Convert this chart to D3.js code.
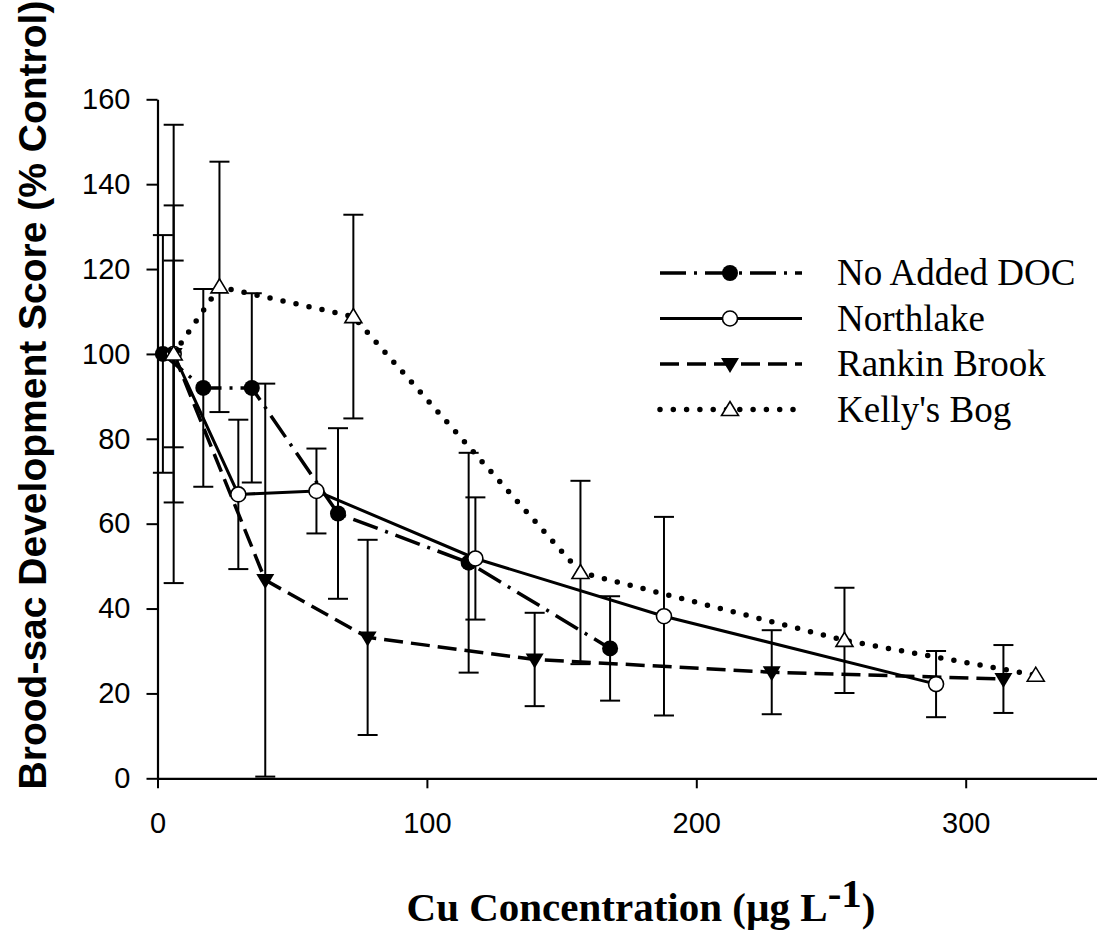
<!DOCTYPE html>
<html>
<head>
<meta charset="utf-8">
<script src="https://cdn.jsdelivr.net/npm/d3@7"></script>
<style>
  body { margin: 0; background: #fff; }
  svg { display: block; }
</style>
</head>
<body>
<script>
// chart values
var series = ["No Added DOC", "Northlake", "Rankin Brook", "Kelly's Bog"];

var noDocX = [2, 17, 35, 67, 115.5, 168];
var noDocY = [100, 92, 92, 62.4, 50.8, 30.6];
var noDocErr = [28, 23.3, 22.3, 20.1, 25.9, 12.3];

var northX = [6, 30, 59, 118, 188, 289];
var northY = [100, 66.9, 67.7, 51.8, 38.2, 22.2];
var northErr = [35, 17.6, 10, 14.4, 23.4, 7.8];

var rankinX = [6, 40, 78, 140, 228, 314];
var rankinY = [100, 46.7, 33.2, 28, 25, 23.4];
var rankinErr = [22, 46.3, 23, 11, 9.9, 8];

var kellyX = [6, 23, 72.7, 157, 255, 326];
var kellyY = [100, 115.8, 108.8, 48.5, 32.5, 24.3];
var kellyErr = [54, 29.5, 24, 21.6, 12.4, 0];

var xTicks = [0, 100, 200, 300];
var yTicks = [0, 20, 40, 60, 80, 100, 120, 140, 160];

var width = 1097;
var height = 930;

var svg = d3.select("body")
	.append("svg")
		.attr("width", width)
		.attr("height", height);

var x = d3.scaleLinear().domain([0, 350]).range([157.5, 1100.4]);
var y = d3.scaleLinear().domain([0, 160]).range([778.3, 99.3]);

function zipData(xs, ys, es) {
	return xs.map((d, i) => ({x: d, y: ys[i], e: es[i]}));
}

var styles = [
	{name: series[0], data: zipData(noDocX, noDocY, noDocErr), dash: "26,8,3,8", width: 3.5, cap: "butt", marker: "filledCircle"},
	{name: series[1], data: zipData(northX, northY, northErr), dash: null, width: 3, cap: "butt", marker: "openCircle"},
	{name: series[2], data: zipData(rankinX, rankinY, rankinErr), dash: "19,8", width: 3.5, cap: "butt", marker: "downTriangle"},
	{name: series[3], data: zipData(kellyX, kellyY, kellyErr), dash: "0,13.3", width: 5.5, cap: "round", marker: "upTriangle"}
];

// axes
var bottomAxis = d3.axisBottom(x).tickValues(xTicks).tickSize(10).tickSizeOuter(0).tickPadding(24);
var gx = svg.append("g")
	.attr("transform", "translate(0," + y(0) + ")")
	.call(bottomAxis);
gx.select(".domain").attr("stroke-width", 2.2);
gx.selectAll(".tick line").attr("stroke-width", 2);
gx.selectAll("text")
	.attr("font-family", "Liberation Sans, Arial, sans-serif")
	.attr("font-size", "29px")
	.attr("fill", "#000");

var leftAxis = d3.axisLeft(y).tickValues(yTicks).tickSize(11).tickSizeOuter(0).tickPadding(16);
var gy = svg.append("g")
	.attr("transform", "translate(" + x(0) + ",0)")
	.call(leftAxis);
gy.select(".domain").attr("stroke-width", 2.2);
gy.selectAll(".tick line").attr("stroke-width", 2);
gy.selectAll("text")
	.attr("font-family", "Liberation Sans, Arial, sans-serif")
	.attr("font-size", "29px")
	.attr("fill", "#000");

// axis titles
svg.append("text")
	.attr("transform", "translate(46," + 395 + ") rotate(-90)")
	.attr("text-anchor", "middle")
	.attr("font-family", "Liberation Sans, Arial, sans-serif")
	.attr("font-weight", "bold")
	.attr("font-size", "39px")
	.text("Brood-sac Development Score (% Control)");

var xTitle = svg.append("text")
	.attr("x", 641)
	.attr("y", 921)
	.attr("text-anchor", "middle")
	.attr("font-family", "Liberation Serif, Times New Roman, serif")
	.attr("font-weight", "bold")
	.attr("font-size", "41px");
xTitle.append("tspan").text("Cu Concentration (\u00b5g L");
xTitle.append("tspan").attr("dy", -14).text("-1");
xTitle.append("tspan").attr("dy", 14).text(")");

// lines
var line = d3.line().x(d => x(d.x)).y(d => y(d.y));
styles.forEach(s => {
	svg.append("path")
		.datum(s.data)
		.attr("d", line)
		.attr("fill", "none")
		.attr("stroke", "#000")
		.attr("stroke-width", s.width)
		.attr("stroke-linecap", s.cap)
		.attr("stroke-dasharray", s.dash);
});

// error bars
styles.forEach(s => {
	var bars = svg.append("g")
		.selectAll("g")
		.data(s.data.filter(d => d.e > 0))
		.enter().append("g")
		.attr("stroke", "#000")
		.attr("stroke-width", 2);
	bars.append("line")
		.attr("x1", d => x(d.x)).attr("x2", d => x(d.x))
		.attr("y1", d => y(d.y + d.e)).attr("y2", d => y(d.y - d.e));
	bars.append("line")
		.attr("x1", d => x(d.x) - 10).attr("x2", d => x(d.x) + 10)
		.attr("y1", d => y(d.y + d.e)).attr("y2", d => y(d.y + d.e));
	bars.append("line")
		.attr("x1", d => x(d.x) - 10).attr("x2", d => x(d.x) + 10)
		.attr("y1", d => y(d.y - d.e)).attr("y2", d => y(d.y - d.e));
});

function drawMarker(g, type, cx, cy) {
	if (type === "filledCircle") {
		g.append("circle").attr("cx", cx).attr("cy", cy).attr("r", 8).attr("fill", "#000");
	} else if (type === "openCircle") {
		g.append("circle").attr("cx", cx).attr("cy", cy).attr("r", 7.5)
			.attr("fill", "#fff").attr("stroke", "#000").attr("stroke-width", 1.6);
	} else if (type === "downTriangle") {
		g.append("path")
			.attr("d", "M" + (cx - 9) + "," + (cy - 6) + "L" + (cx + 9) + "," + (cy - 6) + "L" + cx + "," + (cy + 9) + "Z")
			.attr("fill", "#000");
	} else {
		g.append("path")
			.attr("d", "M" + (cx - 8.5) + "," + (cy + 6) + "L" + (cx + 8.5) + "," + (cy + 6) + "L" + cx + "," + (cy - 8) + "Z")
			.attr("fill", "#fff").attr("stroke", "#000").attr("stroke-width", 1.6);
	}
}

// markers
styles.forEach(s => {
	var g = svg.append("g");
	s.data.forEach(d => drawMarker(g, s.marker, x(d.x), y(d.y)));
});

// legend
var legend = svg.append("g").attr("transform", "translate(660,273)");
styles.forEach((s, i) => {
	var row = legend.append("g").attr("transform", "translate(0," + (i * 45.5) + ")");
	row.append("line")
		.attr("x1", 0).attr("x2", 142)
		.attr("y1", 0).attr("y2", 0)
		.attr("stroke", "#000")
		.attr("stroke-width", s.width)
		.attr("stroke-linecap", s.cap)
		.attr("stroke-dasharray", s.dash);
	drawMarker(row, s.marker, 70, 0);
	row.append("text")
		.attr("x", 177)
		.attr("y", 12)
		.attr("font-family", "Liberation Serif, Times New Roman, serif")
		.attr("font-size", "37px")
		.text(s.name);
});
</script>
</body>
</html>
